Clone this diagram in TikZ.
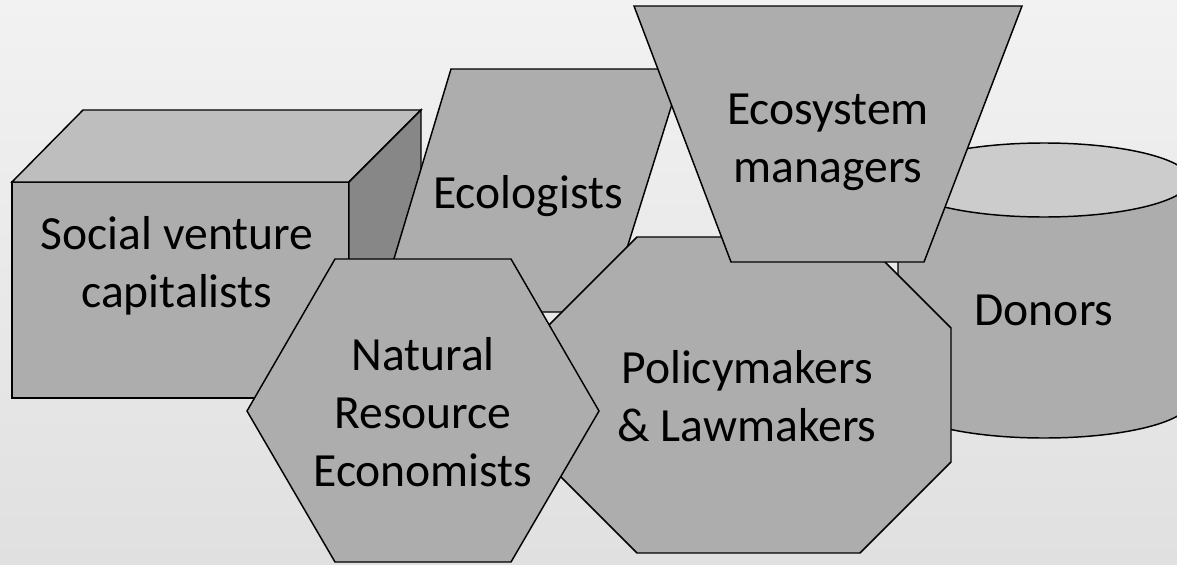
\documentclass[tikz,border=0pt]{standalone}
\usepackage{fontspec}
\setmainfont{Carlito}
\usepackage{tikz}
\definecolor{BackTop}{RGB}{242,242,242}
\definecolor{BackBottom}{RGB}{224,224,224}
\definecolor{ShapeGray}{RGB}{173,173,173}
\definecolor{TopGray}{RGB}{190,190,190}
\definecolor{SideGray}{RGB}{135,135,135}
\definecolor{LidGray}{RGB}{204,204,204}

\begin{document}
\begin{tikzpicture}[x=0.75pt,y=-0.75pt,line join=miter,
    block/.style={draw=black,line width=1.1pt,fill=ShapeGray},
    grouptext/.style={align=center,font=\fontsize{35.7}{43.5}\selectfont}]
  \shade[top color=BackTop,bottom color=BackBottom] (0,0) rectangle (1177,564);
  \useasboundingbox (0,0) rectangle (1177,564);
  \clip (0,0) rectangle (1177,564);
  % cylinder
  \draw[block] (898,180) -- (898,401)
    arc[start angle=180,end angle=0,x radius=146,y radius=37] -- (1190,180) -- cycle;
  \draw[block,fill=LidGray] (1044,180) ellipse[x radius=146,y radius=37];
  % cube
  \coordinate (F1) at (12,182);
  \coordinate (F2) at (349,182);
  \coordinate (F3) at (349,398);
  \coordinate (B1) at (83,110);
  \coordinate (B2) at (421,110);
  \coordinate (B3) at (421,326);
  \draw[block] (F1) rectangle (F3);
  \draw[block,fill=TopGray] (F1) -- (B1) -- (B2) -- (F2) -- cycle;
  \draw[block,fill=SideGray] (F2) -- (B2) -- (B3) -- (F3) -- cycle;
  % parallelogram
  \draw[block] (451,69) -- (683,69) -- (607,312) -- (378,312) -- cycle;
  % octagon
  \draw[block] (637,237) -- (860,237) -- (951,328) -- (951,462) -- (860,553)
    -- (637,553) -- (547,463) -- (547,327) -- cycle;
  % hexagon
  \draw[block] (335,259) -- (511,259) -- (599,411) -- (511,562) -- (335,562)
    -- (247,411) -- cycle;
  % trapezoid
  \draw[block] (634,6) -- (1022,6) -- (924,262) -- (731,262) -- cycle;
  \node[grouptext] (donors) at (1044,310) {Donors};
  \node[grouptext] (social) at (177,266) {Social venture\\capitalists};
  \node[grouptext] (ecologists) at (528,196) {Ecologists};
  \node[grouptext] (policy) at (747,396) {Policymakers\\\& Lawmakers};
  \node[grouptext] (economists) at (423,412) {Natural\\Resource\\Economists};
  \node[grouptext] (managers) at (828,142) {Ecosystem\\managers};
\end{tikzpicture}
\end{document}
